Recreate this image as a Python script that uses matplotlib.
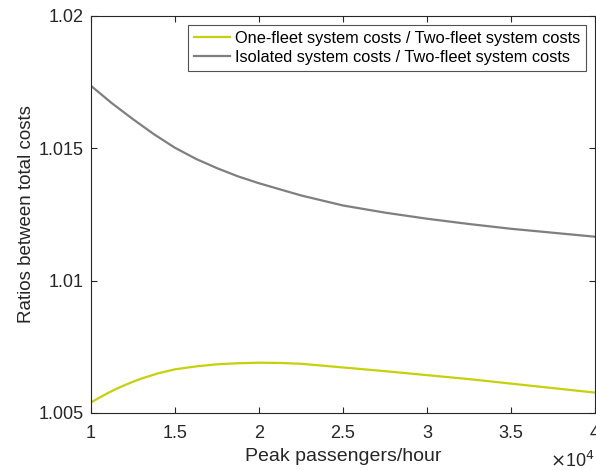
import matplotlib
matplotlib.use("Agg")
import matplotlib.pyplot as plt

# peak passengers/hour, in units of 10^4
x_iso = [1.0, 1.125, 1.25, 1.375, 1.5, 1.625, 1.75, 1.875, 2.0, 2.25, 2.5,
         2.75, 3.0, 3.25, 3.5, 3.75, 4.0]
ratio_iso = [1.01736, 1.01670, 1.01610, 1.01553, 1.01502, 1.01460, 1.01425,
             1.01394, 1.01368, 1.01322, 1.01284, 1.01257, 1.01234, 1.01214,
             1.01196, 1.01181, 1.01166]

x_one = [1.0, 1.05, 1.1, 1.15, 1.2, 1.25, 1.3, 1.4, 1.5, 1.625, 1.75, 1.875,
         2.0, 2.125, 2.25, 2.5, 2.75, 3.0, 3.25, 3.5, 3.75, 4.0]
ratio_one = [1.00540, 1.00558, 1.00575, 1.00591, 1.00605, 1.00618, 1.00630,
             1.00650, 1.00665, 1.00676, 1.00684, 1.00688, 1.00690, 1.00689,
             1.00686, 1.00672, 1.00658, 1.00643, 1.00628, 1.00611, 1.00594,
             1.00577]

xticks = [1, 1.5, 2, 2.5, 3, 3.5, 4]
xtick_labels = ["1", "1.5", "2", "2.5", "3", "3.5", "4"]
yticks = [1.005, 1.01, 1.015, 1.02]
ytick_labels = ["1.005", "1.01", "1.015", "1.02"]

plt.rcParams['font.family'] = ['Liberation Sans', 'DejaVu Sans']

fig = plt.figure(figsize=(5.96, 4.70), dpi=100)
ax = fig.add_axes([0.1527, 0.1213, 0.8456, 0.8447])

ax.plot(x_one, ratio_one, color='#c5d10a', lw=1.6,
        label='One-fleet system costs / Two-fleet system costs')
ax.plot(x_iso, ratio_iso, color='#7f7f7f', lw=1.6,
        label='Isolated system costs / Two-fleet system costs')

ax.set_xlim(1, 4)
ax.set_ylim(1.005, 1.02)
ax.set_xticks(xticks)
ax.set_xticklabels(xtick_labels)
ax.set_yticks(yticks)
ax.set_yticklabels(ytick_labels)
ax.tick_params(direction='in', top=True, right=True, labelsize=13, length=4,
               color='#262626', labelcolor='#262626', pad=5)
ax.tick_params(axis='x', pad=9)
for s in ax.spines.values():
    s.set_color('#262626')
    s.set_linewidth(0.8)

ax.set_xlabel('Peak passengers/hour', fontsize=14, color='#262626', labelpad=4)
ax.set_ylabel('Ratios between total costs', fontsize=13.5, color='#262626', labelpad=3)
ax.text(1.0, -0.095, r'$\times$10$^4$', transform=ax.transAxes, ha='right', va='top',
        fontsize=13, color='#262626')

leg = ax.legend(loc='upper right', fontsize=11.8, frameon=True, fancybox=False,
                handlelength=2.2, handletextpad=0.3, borderpad=0.35, labelspacing=0.25,
                borderaxespad=0.55)
leg.get_frame().set_edgecolor('#262626')
leg.get_frame().set_linewidth(0.8)

fig.savefig('out.png', dpi=100)
